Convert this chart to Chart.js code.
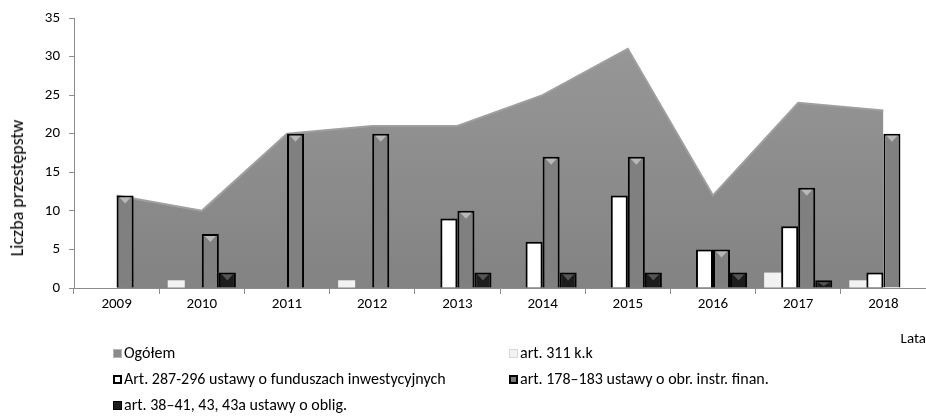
<!DOCTYPE html>
<html lang="pl">
<head>
<meta charset="utf-8">
<title>Liczba przestępstw</title>
<script src="https://cdn.jsdelivr.net/npm/chart.js@4.4.1/dist/chart.umd.min.js"></script>
<style>
    html, body {
        margin: 0;
        padding: 0;
        background: #ffffff;
    }
    body {
        width: 926px;
        height: 418px;
        position: relative;
        overflow: hidden;
        font-family: Carlito, Lato, "Noto Sans", sans-serif;
        color: #000;
    }
    #chartBox {
        position: absolute;
        left: 0;
        top: 0;
        width: 926px;
        height: 352px;
    }
    #yTitle {
        position: absolute;
        left: 17px;
        top: 188px;
        transform: translate(-50%, -50%) rotate(-90deg);
        white-space: nowrap;
        font-size: 18px;
        line-height: 20px;
    }
    #legend {
        position: absolute;
        left: 113px;
        top: 340px;
        width: 810px;
        display: grid;
        grid-template-columns: 396px 410px;
        grid-auto-rows: 26px;
        font-size: 16px;
        line-height: 26px;
    }
    .item {
        display: flex;
        align-items: center;
        white-space: nowrap;
    }
    .box {
        width: 9px;
        height: 9px;
        margin-right: 2px;
        box-sizing: border-box;
        flex: none;
    }
</style>
</head>
<body>
<div id="chartBox"><canvas id="crimeChart"></canvas></div>
<div id="yTitle">Liczba przestępstw</div>
<div id="legend"></div>

<script>
// data
const years = ['2009', '2010', '2011', '2012', '2013', '2014', '2015', '2016', '2017', '2018'];
const ogolem = [12, 10, 20, 21, 21, 25, 31, 12, 24, 23];
const art311 = [0, 1, 0, 1, 0, 0, 0, 0, 2, 1];
const art287 = [0, 0, 0, 0, 9, 6, 12, 5, 8, 2];
const art178 = [12, 7, 20, 20, 10, 17, 17, 5, 13, 20];
const art38 = [0, 2, 0, 0, 2, 2, 2, 2, 1, 0];
const yTicks = [0, 5, 10, 15, 20, 25, 30, 35];

const FONT = 'Carlito, Lato, "Noto Sans", sans-serif';
const AXIS_GREY = '#8c8c8c';

function areaFill(context) {
    const area = context.chart.chartArea;
    if (!area) return '#8a8a8a';
    const g = context.chart.ctx.createLinearGradient(0, area.top, 0, area.bottom);
    g.addColorStop(0, '#999999');
    g.addColorStop(1, '#838383');
    return g;
}

// little light triangle at the top of the framed bars, like the original bevel
const bevelPlugin = {
    id: 'bevel',
    afterDatasetsDraw(chart) {
        const ctx = chart.ctx;
        chart.data.datasets.forEach((ds, i) => {
            if (!ds.bevel) return;
            const meta = chart.getDatasetMeta(i);
            meta.data.forEach((bar, j) => {
                if (!ds.data[j]) return;
                const half = bar.width / 2 - 3;
                const top = bar.y + 2;
                const h = Math.min(6, (bar.base - bar.y) / 2);
                ctx.save();
                ctx.fillStyle = ds.bevel;
                ctx.beginPath();
                ctx.moveTo(bar.x - half, top);
                ctx.lineTo(bar.x + half, top);
                ctx.lineTo(bar.x, top + h);
                ctx.closePath();
                ctx.fill();
                ctx.restore();
            });
        });
    }
};

const datasets = [
    {
        type: 'line',
        label: 'Ogółem',
        data: ogolem,
        fill: 'origin',
        backgroundColor: areaFill,
        borderColor: '#9f9f9f',
        borderWidth: 2,
        pointRadius: 0,
        tension: 0,
        order: 10,
        legendBox: 'background:#8a8a8a;border:1px solid #b5b5b5;'
    },
    {
        label: 'art. 311 k.k',
        data: art311,
        backgroundColor: '#f2f2f2',
        borderWidth: 0,
        order: 1,
        legendBox: 'background:#f2f2f2;border:1px solid #d8d8d8;'
    },
    {
        label: 'Art. 287-296 ustawy o funduszach inwestycyjnych',
        data: art287,
        backgroundColor: '#ffffff',
        borderColor: '#000000',
        borderWidth: 2,
        order: 1,
        legendBox: 'background:#fff;border:2px solid #000;'
    },
    {
        label: 'art. 178–183 ustawy o obr. instr. finan.',
        data: art178,
        backgroundColor: '#808080',
        borderColor: '#000000',
        borderWidth: 2,
        bevel: '#b8b8b8',
        order: 1,
        legendBox: 'background:#7a7a7a;border:2px solid #000;'
    },
    {
        label: 'art. 38–41, 43, 43a ustawy o oblig.',
        data: art38,
        backgroundColor: '#1c1c1c',
        borderColor: '#000000',
        borderWidth: 2,
        bevel: '#555555',
        order: 1,
        legendBox: 'background:#1c1c1c;border:1px solid #000;'
    }
];

const chart = new Chart(document.getElementById('crimeChart'), {
    type: 'bar',
    data: { labels: years, datasets: datasets },
    options: {
        responsive: true,
        maintainAspectRatio: false,
        animation: false,
        categoryPercentage: 0.8,
        barPercentage: 1,
        layout: { padding: { left: 6, right: 0, top: 12, bottom: 0 } },
        plugins: {
            legend: { display: false },
            tooltip: { enabled: false }
        },
        scales: {
            x: {
                offset: true,
                grid: {
                    offset: true,
                    drawOnChartArea: false,
                    drawTicks: true,
                    tickLength: 6,
                    color: AXIS_GREY
                },
                border: { display: true, color: AXIS_GREY, width: 1 },
                ticks: {
                    padding: 1,
                    color: '#000',
                    font: { family: FONT, size: 15 }
                },
                title: {
                    display: true,
                    text: 'Lata',
                    align: 'end',
                    color: '#000',
                    font: { family: FONT, size: 15 },
                    padding: { top: 0, bottom: 4 }
                },
                afterFit(scale) { scale.height = 64; }
            },
            y: {
                min: 0,
                max: 35,
                afterBuildTicks(scale) {
                    scale.ticks = yTicks.map(v => ({ value: v }));
                },
                grid: {
                    drawOnChartArea: false,
                    drawTicks: true,
                    tickLength: 5,
                    color: AXIS_GREY
                },
                border: { display: true, color: AXIS_GREY, width: 1 },
                ticks: {
                    padding: 9,
                    color: '#000',
                    font: { family: FONT, size: 15 }
                },
                afterFit(scale) { scale.width = 68; }
            }
        }
    },
    plugins: [bevelPlugin]
});

// legend laid out in two columns like the original
const legendEl = document.getElementById('legend');
chart.data.datasets.forEach(ds => {
    const item = document.createElement('div');
    item.className = 'item';
    const box = document.createElement('span');
    box.className = 'box';
    box.style.cssText = ds.legendBox;
    const txt = document.createElement('span');
    txt.textContent = ds.label;
    item.appendChild(box);
    item.appendChild(txt);
    legendEl.appendChild(item);
});
</script>
</body>
</html>
